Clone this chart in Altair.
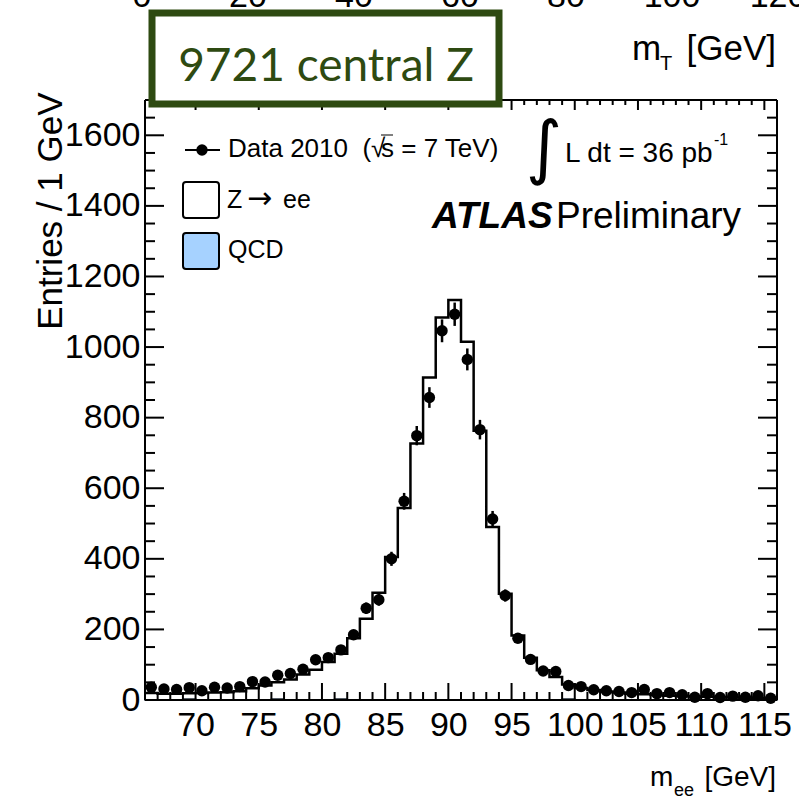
import altair as alt
import pandas as pd

# ---- data -----------------------------------------------------------------
mass_low = list(range(66, 116))  # lower bin edges, 1 GeV bins
data_2010 = [36, 31, 30, 35, 26, 36, 34, 38, 52, 51,
             70, 75, 87, 114, 120, 142, 185, 260, 284, 400,
             563, 749, 857, 1046, 1093, 965, 766, 513, 296, 175,
             115, 82, 81, 41, 38, 29, 26, 24, 21, 30,
             18, 21, 15, 8, 18, 7, 11, 8, 12, 5]
zee_mc = [19, 17, 17, 16, 19, 20, 21, 24, 32, 40,
          47, 57, 71, 85, 107, 128, 174, 229, 303, 404,
          543, 726, 913, 1083, 1132, 1014, 762, 489, 300, 182,
          119, 83, 64, 41, 33, 27, 23, 20, 17, 15,
          13, 11, 10, 9, 8, 7, 6, 6, 5, 5]
qcd = [1, 1, 1, 3, 1, 1, 1, 1, 1, 1,
       3, 1, 1, 1, 1, 3, 1, 1, 1, 1,
       1, 1, 1, 1, 1, 1, 1, 1, 1, 1,
       1, 1, 1, 3, 1, 1, 1, 1, 1, 1,
       1, 1, 1, 1, 1, 1, 1, 1, 1, 1]

x_major = [70, 75, 80, 85, 90, 95, 100, 105, 110, 115]
x_minor = [m for m in range(67, 116) if m % 5 != 0]
y_major = [0, 200, 400, 600, 800, 1000, 1200, 1400, 1600]
y_minor = [v for v in range(50, 1700, 50) if v % 200 != 0]
mt_ticks = [0, 20, 40, 60, 80, 100, 120]

# ---- tables ------------------------------------------------------------------
hist = pd.DataFrame({"m": mass_low + [116],
                     "zee": zee_mc + [zee_mc[-1]],
                     "qcd": qcd + [qcd[-1]]})
pts = pd.DataFrame({"m": [m + 0.5 for m in mass_low], "n": data_2010})
one = pd.DataFrame({"a": [0]})

W, H = 632, 600
FONT = "Liberation Sans"
xs = alt.Scale(domain=[66, 116], nice=False, zero=False)
ys = alt.Scale(domain=[0, 1700], nice=False, zero=False)

x_axis = alt.Axis(values=x_major, title=None, labelFontSize=34, labelFont=FONT,
                  labelColor="black", tickSize=0, domain=False, grid=False,
                  labelPadding=8, labelFlush=False, format="d")
y_axis = alt.Axis(values=y_major, title="Entries / 1 GeV", titleFont=FONT,
                  titleFontSize=35, titleFontWeight="normal", titleColor="black",
                  titleAngle=270, titleAnchor="end", titleAlign="right",
                  titleBaseline="alphabetic", titleX=-84, titleY=-8,
                  labelFontSize=34, labelFont=FONT, labelColor="black",
                  tickSize=0, domain=False, grid=False, labelPadding=5, format="d")

X = lambda f: alt.X(f, scale=xs, axis=x_axis)
Y = lambda f: alt.Y(f, scale=ys, axis=y_axis)

qcd_area = alt.Chart(hist).mark_area(
    interpolate="step-after", fill="#a6d2ff", stroke="#1f2a36", strokeWidth=1.5
).encode(x=X("m:Q"), y=Y("qcd:Q"))

mc_line = alt.Chart(hist).transform_calculate(
    tot="datum.zee + datum.qcd"
).mark_line(interpolate="step-after", color="black", strokeWidth=2.5).encode(
    x=X("m:Q"), y=Y("tot:Q"))

err = alt.Chart(pts).transform_calculate(
    lo="datum.n - sqrt(datum.n)", hi="datum.n + sqrt(datum.n)"
).mark_rule(color="black", strokeWidth=2.5).encode(
    x=X("m:Q"), y=Y("lo:Q"), y2="hi:Q")

dots = alt.Chart(pts).mark_circle(size=130, color="black", opacity=1).encode(
    x=X("m:Q"), y=Y("n:Q"))

# ---- frame and inward ticks ------------------------------------------------
def frame(**enc):
    return alt.Chart(one).mark_rule(color="black", strokeWidth=2).encode(**enc)

frame_layers = [
    frame(x=alt.value(0), y=alt.value(0), y2=alt.value(H)),
    frame(x=alt.value(W), y=alt.value(0), y2=alt.value(H)),
    frame(x=alt.value(0), x2=alt.value(W), y=alt.value(0)),
    frame(x=alt.value(0), x2=alt.value(W), y=alt.value(H)),
]

def yticks(vals, x0, x1):
    return alt.Chart(pd.DataFrame({"v": vals})).mark_rule(
        color="black", strokeWidth=2).encode(
        y=Y("v:Q"), x=alt.value(x0), x2=alt.value(x1))

def xticks(vals, y0, y1):
    return alt.Chart(pd.DataFrame({"v": vals})).mark_rule(
        color="black", strokeWidth=2).encode(
        x=X("v:Q"), y=alt.value(y0), y2=alt.value(y1))

tick_layers = [
    yticks(y_major, 0, 19), yticks(y_minor, 0, 10),
    yticks(y_major, W - 19, W), yticks(y_minor, W - 10, W),
    xticks(x_major, H - 17, H), xticks(x_minor, H - 8, H),
    xticks(x_major, 0, 10), xticks(x_minor, 0, 5),
]

# ---- annotations -----------------------------------------------------------
def txt(text, x, y, size, align="left", baseline="alphabetic", font=FONT,
        weight="normal", style="normal", color="black"):
    return alt.Chart(one).mark_text(
        text=text, align=align, baseline=baseline, font=font, fontSize=size,
        fontWeight=weight, fontStyle=style, color=color
    ).encode(x=alt.value(x), y=alt.value(y))

legend = [
    alt.Chart(one).mark_rule(color="black", strokeWidth=2).encode(
        x=alt.value(40), x2=alt.value(75), y=alt.value(50)),
    alt.Chart(one).mark_circle(size=130, color="black", opacity=1).encode(
        x=alt.value(57), y=alt.value(50)),
    txt("Data 2010 \u00a0(\u221a", 83, 57, 26),
    alt.Chart(one).mark_rule(color="black", strokeWidth=1).encode(
        x=alt.value(236), x2=alt.value(248), y=alt.value(35)),
    txt("s = 7 TeV)", 236, 57, 26),
    alt.Chart(one).mark_rect(fill="white", stroke="black", strokeWidth=2,
                             cornerRadius=3).encode(
        x=alt.value(38), x2=alt.value(74), y=alt.value(82), y2=alt.value(118)),
    txt("Z", 82, 108, 25),
    txt("\u2192", 102, 108, 30, font="DejaVu Sans"),
    txt("ee", 138, 108, 25),
    alt.Chart(one).mark_rect(fill="#a6d2ff", stroke="black", strokeWidth=2,
                             cornerRadius=3).encode(
        x=alt.value(38), x2=alt.value(74), y=alt.value(133), y2=alt.value(169)),
    txt("QCD", 83, 158, 25),
]

labels = [
    txt("\u222b", 399, 50, 70, align="center", baseline="middle", font="DejaVu Sans"),
    txt("L dt = 36 pb", 420, 62, 28),
    txt("-1", 569, 45, 16),
    txt("ATLAS", 287, 128, 37, weight="bold", style="italic"),
    txt("Preliminary", 411, 128, 37),
    # x-axis title
    txt("m", 505, 686, 28),
    txt("ee", 529, 696, 18),
    txt("[GeV]", 631, 686, 28, align="right"),
    # remnants of the panel above
    txt("m", 487, -40, 35),
    txt("T", 515, -30, 20),
    txt("[GeV]", 631, -40, 35, align="right"),
    # green box
    alt.Chart(one).mark_rect(fill="white", stroke="#2e4a11", strokeWidth=7).encode(
        x=alt.value(7), x2=alt.value(354), y=alt.value(-87), y2=alt.value(4)),
    txt("9721 central Z", 181, -33, 46, align="center", baseline="middle",
        font="Lato", color="#2e4a11"),
]

main = alt.layer(qcd_area, mc_line, err, dots, *frame_layers, *tick_layers,
                 *legend, *labels)

mt_labels = alt.Chart(pd.DataFrame({"mt": mt_ticks})).mark_text(
    align="center", baseline="alphabetic", font=FONT, fontSize=34, color="black"
).encode(
    x=alt.X("mt:Q", scale=alt.Scale(domain=[0, 120], range=[-3, 633]), axis=None),
    y=alt.value(-93), text="mt:Q")

chart = alt.layer(main, mt_labels).resolve_scale(x="independent").properties(
    width=W, height=H,
    padding={"left": 145, "top": 100, "right": 22, "bottom": 103},
    autosize=alt.AutoSizeParams(type="none"),
    background="white",
).configure_view(stroke=None)

chart.save("out.html", embed_options={"renderer": "svg", "actions": False})
